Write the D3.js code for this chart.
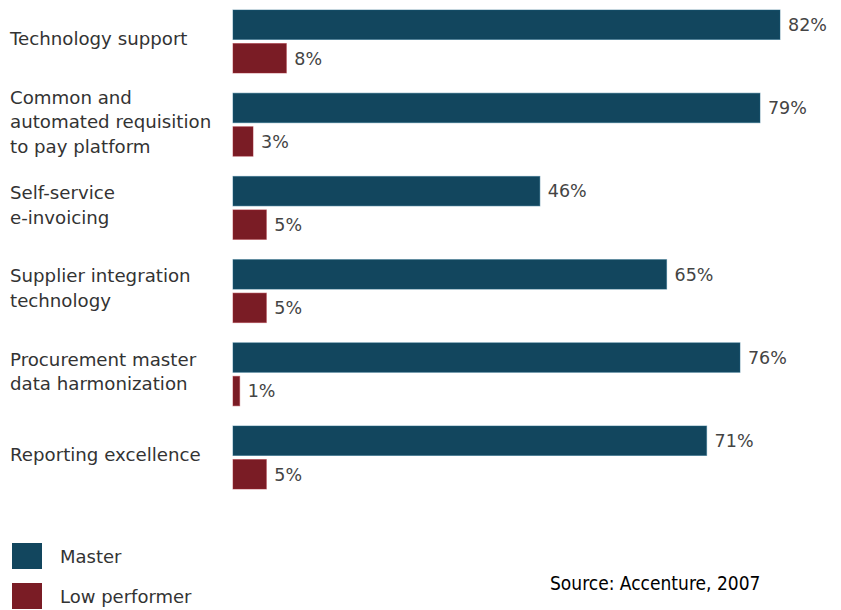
<!DOCTYPE html>
<html>
<head>
<meta charset="utf-8">
<script src="https://cdn.jsdelivr.net/npm/d3@7"></script>
<style>
  body { margin: 0; background: #fff; }
  svg { display: block; }
</style>
</head>
<body>
<svg id="chart" width="841" height="610"></svg>
<script>
// data
const categories = [
    "Technology support",
    "Common and|automated requisition|to pay platform",
    "Self-service|e-invoicing",
    "Supplier integration|technology",
    "Procurement master|data harmonization",
    "Reporting excellence"
];
const seriesNames = ["Master", "Low performer"];
const masterValues = [82, 79, 46, 65, 76, 71];
const lowValues = [8, 3, 5, 5, 1, 5];
const seriesColors = ["#12465e", "#7a1c25"];

const svg = d3.select("#chart");

const x = d3.scaleLinear()
    .domain([0, 82])
    .range([233, 780]);

// one band per category, two bars inside each
const y = d3.scaleBand()
    .domain(categories)
    .range([10, 489])
    .paddingInner(0.243)
    .paddingOuter(0);

const ySub = d3.scaleBand()
    .domain(seriesNames)
    .range([0, y.bandwidth()])
    .paddingInner(0.12);

const rows = categories.map((c, i) => ({
    cat: c,
    values: [
        { name: seriesNames[0], value: masterValues[i], color: seriesColors[0] },
        { name: seriesNames[1], value: lowValues[i], color: seriesColors[1] }
    ]
}));

const group = svg.selectAll("g.row")
    .data(rows)
    .join("g")
    .attr("class", "row")
    .attr("transform", d => `translate(0,${y(d.cat)})`);

group.selectAll("rect")
    .data(d => d.values)
    .join("rect")
    .attr("x", x(0))
    .attr("y", d => ySub(d.name))
    .attr("width", d => x(d.value) - x(0))
    .attr("height", ySub.bandwidth())
    .attr("fill", d => d.color)
    .attr("stroke", d => d3.color(d.color).brighter(0.8))
    .attr("stroke-opacity", 0.5)
    .attr("stroke-width", 1);

// value labels
group.selectAll("text.val")
    .data(d => d.values)
    .join("text")
    .attr("class", "val")
    .attr("x", d => x(d.value) + 8)
    .attr("y", d => ySub(d.name) + ySub.bandwidth() / 2)
    .attr("dy", "0.36em")
    .attr("font-family", "DejaVu Sans, sans-serif")
    .attr("font-size", 17.5)
    .attr("fill", "#444")
    .text(d => d.value + "%");

// category labels, multi-line, centred on the group
const lineH = 24.5;
group.each(function(d) {
    const lines = d.cat.split("|");
    const mid = y.bandwidth() / 2;
    const t = d3.select(this).append("text")
        .attr("font-family", "DejaVu Sans, sans-serif")
        .attr("font-size", 18.2)
        .attr("fill", "#333");
    lines.forEach((ln, k) => {
        t.append("tspan")
            .attr("x", 10)
            .attr("y", mid - 3 + (k - (lines.length - 1) / 2) * lineH)
            .attr("dy", "0.36em")
            .text(ln);
    });
});

// legend
const legend = svg.append("g");
const legRows = legend.selectAll("g")
    .data(seriesNames)
    .join("g")
    .attr("transform", (d, i) => `translate(12,${543 + i * 40})`);

legRows.append("rect")
    .attr("width", 30)
    .attr("height", 26)
    .attr("fill", (d, i) => seriesColors[i]);

legRows.append("text")
    .attr("x", 48)
    .attr("y", 14)
    .attr("dy", "0.36em")
    .attr("font-family", "DejaVu Sans, sans-serif")
    .attr("font-size", 18)
    .attr("fill", "#333")
    .text(d => d);

svg.append("text")
    .attr("x", 550)
    .attr("y", 590)
    .attr("font-family", "Liberation Sans Narrow, DejaVu Sans Condensed, sans-serif")
    .attr("font-size", 19)
    .attr("fill", "#000")
    .text("Source: Accenture, 2007");
</script>
</body>
</html>
